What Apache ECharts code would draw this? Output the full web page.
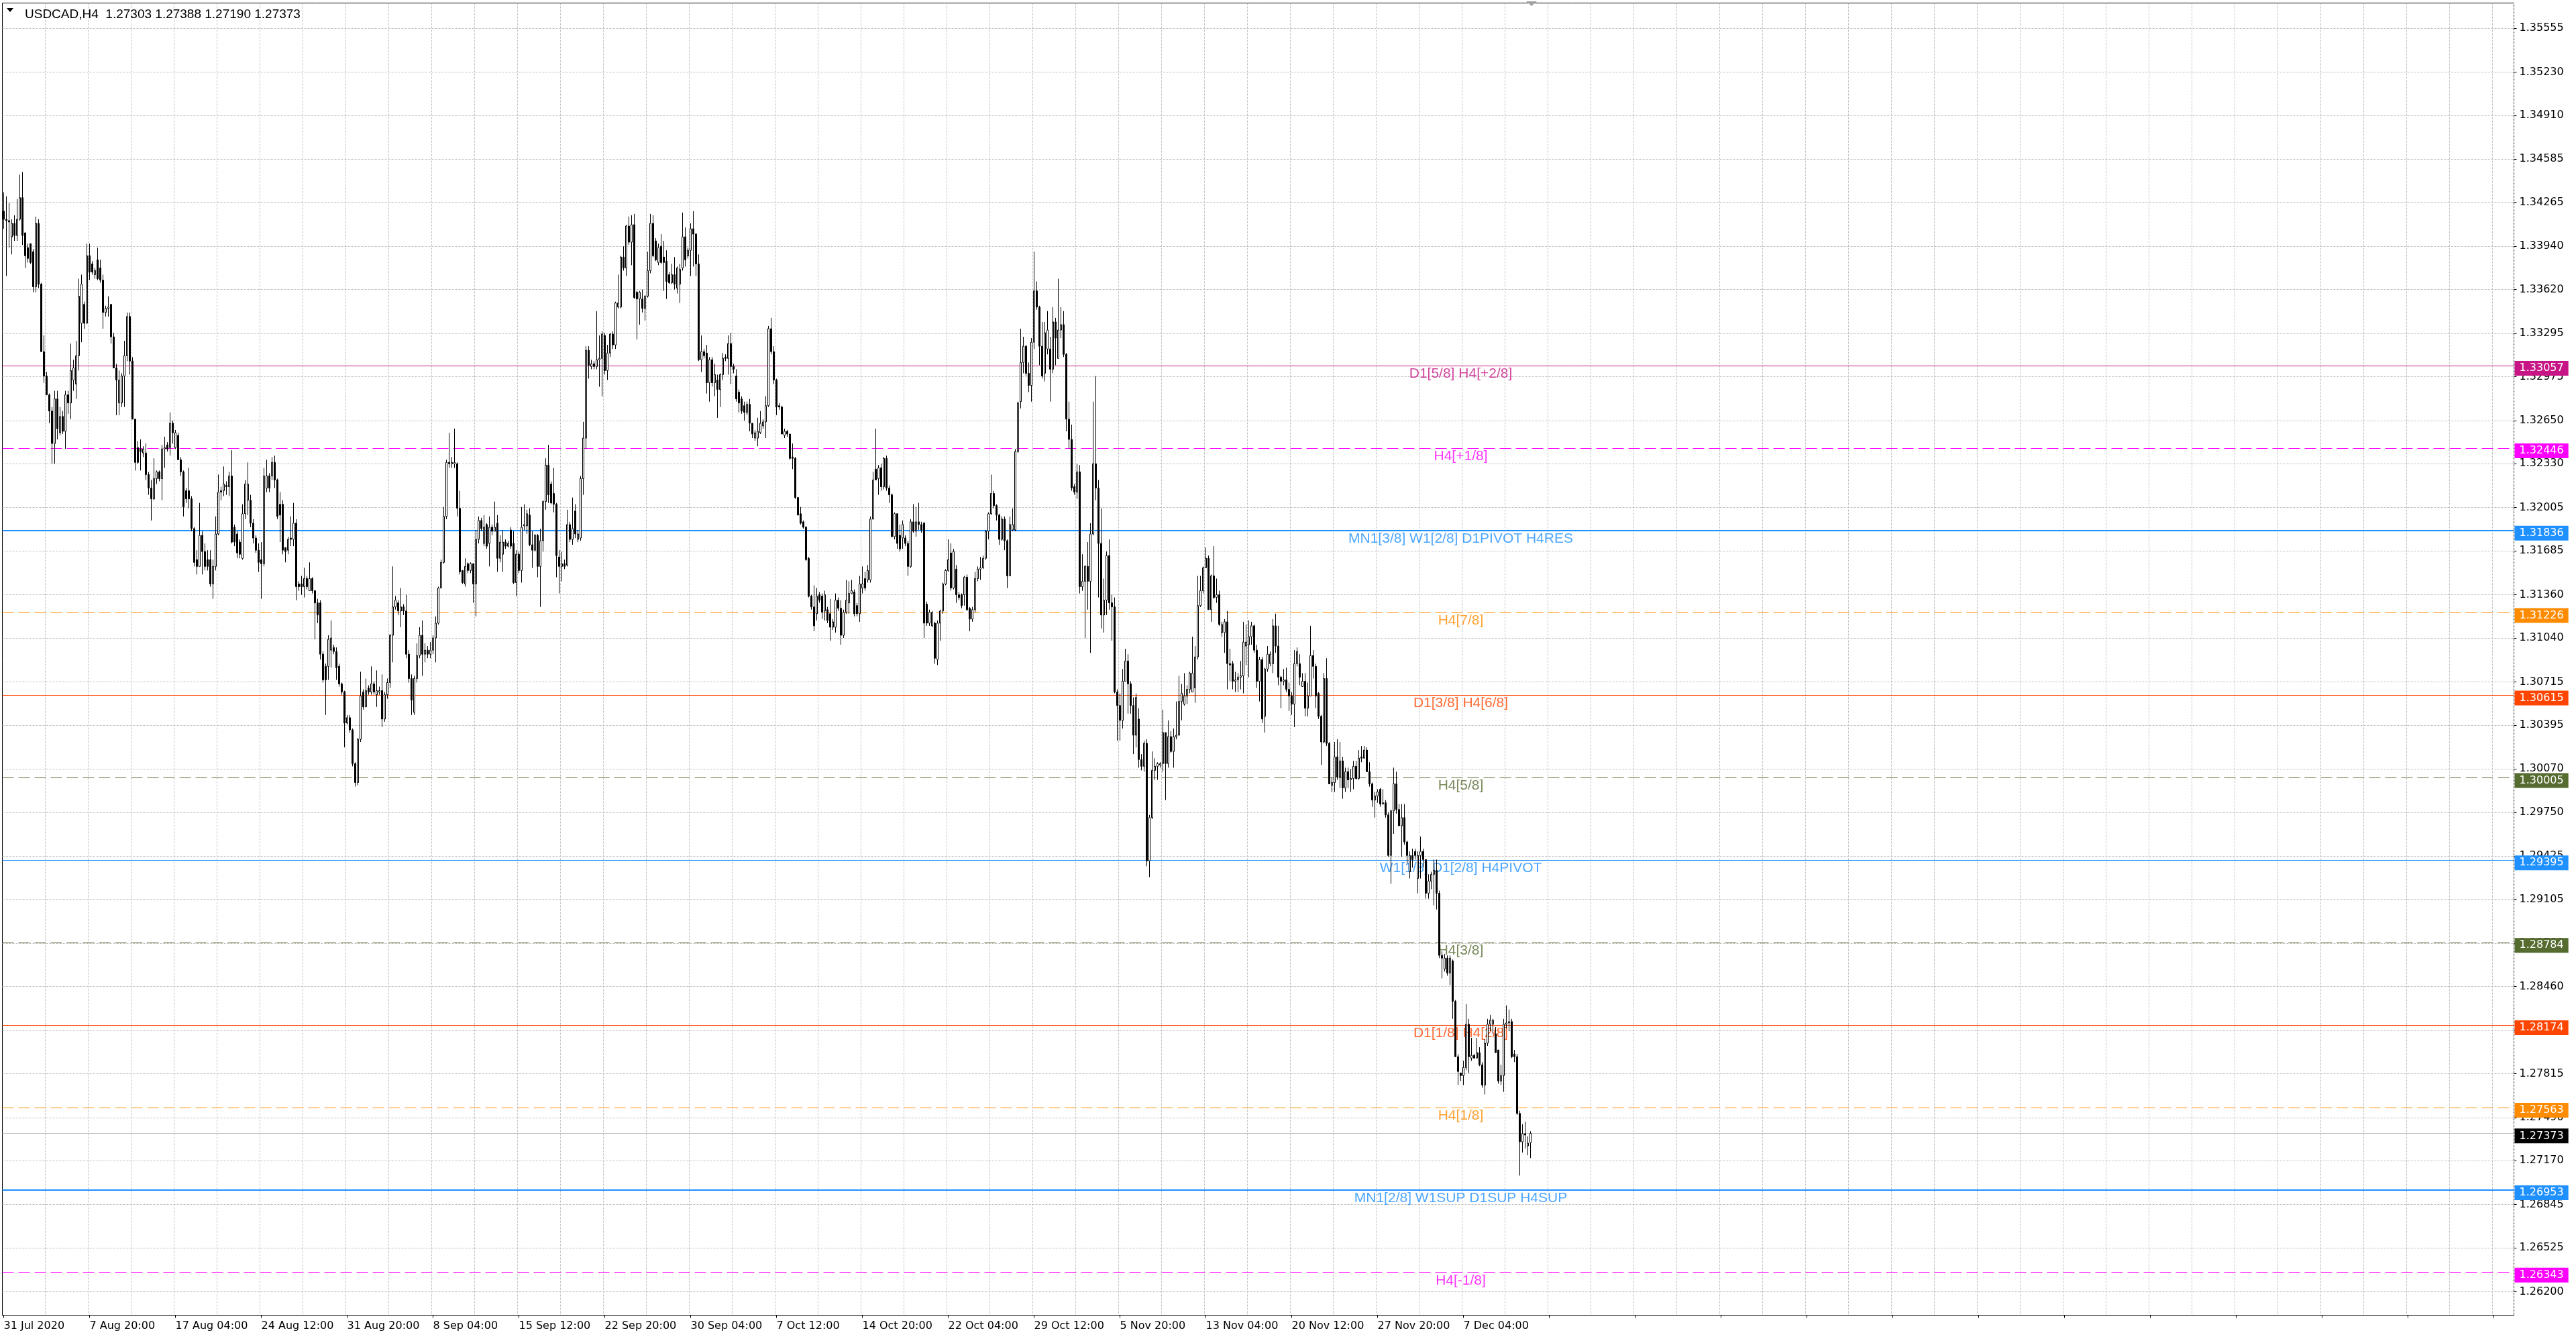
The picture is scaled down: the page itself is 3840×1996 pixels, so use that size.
<!DOCTYPE html>
<html><head><meta charset="utf-8">
<script src="https://cdn.jsdelivr.net/npm/echarts@6/dist/echarts.min.js"></script>
<style>html,body{margin:0;padding:0;background:#fff;}#c{width:3840px;height:1996px;}</style>
</head><body><div id="c"></div>
<script>
const symbolName = 'USDCAD,H4';
const timeLabels = ['31 Jul 2020','7 Aug 20:00','17 Aug 04:00','24 Aug 12:00','31 Aug 20:00','8 Sep 04:00','15 Sep 12:00','22 Sep 20:00','30 Sep 04:00','7 Oct 12:00','14 Oct 20:00','22 Oct 04:00','29 Oct 12:00','5 Nov 20:00','13 Nov 04:00','20 Nov 12:00','27 Nov 20:00','7 Dec 04:00'];
const priceTicks = [1.35555,1.35230,1.34910,1.34585,1.34265,1.33940,1.33620,1.33295,1.32975,1.32650,1.32330,1.32005,1.31685,1.31360,1.31040,1.30715,1.30395,1.30070,1.29750,1.29425,1.29105,1.28780,1.28460,1.28135,1.27815,1.27490,1.27170,1.26845,1.26525,1.26200];
const levelPrices = [1.33057,1.32446,1.31836,1.31226,1.30615,1.30005,1.29395,1.28784,1.28174,1.27563,1.26953,1.26343];
const levelNames = ['D1[5/8] H4[+2/8]','H4[+1/8]','MN1[3/8] W1[2/8] D1PIVOT H4RES','H4[7/8]','D1[3/8] H4[6/8]','H4[5/8]','W1[1/8] D1[2/8] H4PIVOT','H4[3/8]','D1[1/8] H4[2/8]','H4[1/8]','MN1[2/8] W1SUP D1SUP H4SUP','H4[-1/8]'];
// candles: [open, close, low, high]
const ohlc = [
[1.3420,1.3414,1.3407,1.3434],[1.3414,1.3413,1.3372,1.3431],[1.3413,1.3412,1.3393,1.3426],[1.3401,1.3411,1.3388,1.3414],[1.3411,1.3402,1.3398,1.3417],
[1.3402,1.3414,1.3398,1.3429],[1.3414,1.3430,1.3413,1.3447],[1.3430,1.3402,1.3395,1.3449],[1.3404,1.3387,1.3378,1.3404],[1.3393,1.3385,1.3382,1.3396],
[1.3396,1.3382,1.3381,1.3396],[1.3390,1.3364,1.3360,1.3392],[1.3364,1.3411,1.3360,1.3416],[1.3411,1.3366,1.3363,1.3414],[1.3366,1.3316,1.3316,1.3367],
[1.3316,1.3298,1.3293,1.3328],[1.3298,1.3284,1.3284,1.3301],[1.3284,1.3272,1.3263,1.3285],[1.3272,1.3248,1.3233,1.3275],[1.3248,1.3281,1.3233,1.3287],
[1.3281,1.3259,1.3251,1.3287],[1.3256,1.3268,1.3254,1.3275],[1.3268,1.3257,1.3255,1.3272],[1.3257,1.3284,1.3244,1.3287],[1.3284,1.3278,1.3270,1.3287],
[1.3278,1.3302,1.3266,1.3322],[1.3295,1.3304,1.3287,1.3310],[1.3292,1.3313,1.3281,1.3324],[1.3313,1.3357,1.3302,1.3370],[1.3337,1.3366,1.3323,1.3373],
[1.3351,1.3337,1.3333,1.3353],[1.3337,1.3387,1.3337,1.3396],[1.3387,1.3375,1.3369,1.3396],[1.3381,1.3375,1.3373,1.3383],[1.3373,1.3376,1.3370,1.3378],
[1.3384,1.3370,1.3369,1.3393],[1.3378,1.3369,1.3367,1.3384],[1.3369,1.3345,1.3333,1.3373],[1.3345,1.3348,1.3342,1.3350],[1.3348,1.3349,1.3342,1.3357],
[1.3351,1.3327,1.3322,1.3351],[1.3327,1.3304,1.3304,1.3330],[1.3304,1.3295,1.3269,1.3307],[1.3278,1.3295,1.3269,1.3302],[1.3278,1.3298,1.3275,1.3300],
[1.3298,1.3313,1.3275,1.3324],[1.3313,1.3342,1.3309,1.3345],[1.3342,1.3309,1.3299,1.3345],[1.3309,1.3266,1.3266,1.3312],[1.3266,1.3234,1.3228,1.3266],
[1.3245,1.3234,1.3233,1.3250],[1.3244,1.3242,1.3228,1.3251],[1.3241,1.3244,1.3238,1.3246],[1.3241,1.3225,1.3221,1.3248],[1.3225,1.3215,1.3210,1.3227],
[1.3215,1.3207,1.3191,1.3221],[1.3207,1.3222,1.3206,1.3237],[1.3222,1.3227,1.3218,1.3228],[1.3227,1.3222,1.3220,1.3228],[1.3222,1.3244,1.3206,1.3247],
[1.3244,1.3245,1.3230,1.3253],[1.3247,1.3244,1.3242,1.3249],[1.3245,1.3263,1.3239,1.3271],[1.3263,1.3256,1.3248,1.3265],[1.3245,1.3256,1.3244,1.3258],
[1.3254,1.3236,1.3236,1.3256],[1.3236,1.3227,1.3224,1.3238],[1.3227,1.3201,1.3194,1.3228],[1.3213,1.3207,1.3204,1.3215],[1.3213,1.3207,1.3200,1.3230],
[1.3207,1.3185,1.3183,1.3209],[1.3185,1.3160,1.3157,1.3186],[1.3162,1.3157,1.3151,1.3169],[1.3157,1.3180,1.3157,1.3204],[1.3180,1.3168,1.3151,1.3183],
[1.3168,1.3157,1.3154,1.3174],[1.3162,1.3157,1.3154,1.3169],[1.3162,1.3144,1.3142,1.3169],[1.3144,1.3157,1.3133,1.3162],[1.3157,1.3181,1.3154,1.3194],
[1.3181,1.3212,1.3180,1.3225],[1.3213,1.3212,1.3206,1.3216],[1.3213,1.3218,1.3209,1.3231],[1.3217,1.3216,1.3210,1.3220],[1.3216,1.3224,1.3209,1.3227],
[1.3224,1.3175,1.3174,1.3243],[1.3186,1.3175,1.3172,1.3188],[1.3181,1.3167,1.3163,1.3183],[1.3175,1.3166,1.3163,1.3177],[1.3163,1.3196,1.3162,1.3203],
[1.3196,1.3218,1.3192,1.3221],[1.3206,1.3218,1.3195,1.3234],[1.3206,1.3189,1.3186,1.3210],[1.3189,1.3178,1.3174,1.3192],[1.3178,1.3169,1.3167,1.3180],
[1.3169,1.3160,1.3153,1.3174],[1.3162,1.3159,1.3133,1.3175],[1.3159,1.3224,1.3157,1.3230],[1.3215,1.3224,1.3212,1.3236],[1.3224,1.3215,1.3212,1.3226],
[1.3224,1.3234,1.3221,1.3238],[1.3234,1.3221,1.3215,1.3239],[1.3221,1.3194,1.3192,1.3222],[1.3203,1.3195,1.3175,1.3212],[1.3203,1.3169,1.3166,1.3206],
[1.3171,1.3168,1.3160,1.3171],[1.3169,1.3177,1.3166,1.3179],[1.3178,1.3177,1.3172,1.3194],[1.3177,1.3189,1.3172,1.3204],[1.3189,1.3142,1.3132,1.3192],
[1.3144,1.3142,1.3139,1.3146],[1.3144,1.3142,1.3136,1.3150],[1.3142,1.3148,1.3134,1.3156],[1.3148,1.3142,1.3140,1.3150],[1.3139,1.3148,1.3139,1.3160],
[1.3148,1.3139,1.3137,1.3149],[1.3139,1.3130,1.3103,1.3139],[1.3130,1.3121,1.3115,1.3133],[1.3130,1.3092,1.3088,1.3132],[1.3092,1.3073,1.3071,1.3094],
[1.3083,1.3073,1.3047,1.3085],[1.3083,1.3103,1.3073,1.3106],[1.3095,1.3104,1.3082,1.3117],[1.3097,1.3094,1.3092,1.3099],[1.3094,1.3082,1.3073,1.3097],
[1.3083,1.3070,1.3068,1.3085],[1.3070,1.3064,1.3062,1.3071],[1.3064,1.3041,1.3023,1.3065],[1.3041,1.3045,1.3040,1.3047],[1.3045,1.3036,1.3034,1.3047],
[1.3036,1.3011,1.3009,1.3037],[1.3011,1.2997,1.2994,1.3012],[1.2997,1.3029,1.2995,1.3030],[1.3029,1.3061,1.3027,1.3079],[1.3064,1.3053,1.3051,1.3066],
[1.3053,1.3065,1.3053,1.3074],[1.3067,1.3064,1.3062,1.3069],[1.3064,1.3070,1.3062,1.3083],[1.3070,1.3064,1.3062,1.3072],[1.3062,1.3065,1.3053,1.3080],
[1.3064,1.3065,1.3062,1.3068],[1.3065,1.3044,1.3038,1.3077],[1.3044,1.3062,1.3042,1.3064],[1.3062,1.3071,1.3059,1.3074],[1.3071,1.3106,1.3067,1.3107],
[1.3106,1.3127,1.3086,1.3157],[1.3127,1.3132,1.3125,1.3135],[1.3130,1.3124,1.3121,1.3132],[1.3124,1.3127,1.3112,1.3141],[1.3127,1.3124,1.3121,1.3129],
[1.3124,1.3092,1.3089,1.3136],[1.3092,1.3074,1.3071,1.3095],[1.3074,1.3058,1.3047,1.3077],[1.3049,1.3074,1.3047,1.3076],[1.3074,1.3091,1.3071,1.3100],
[1.3091,1.3106,1.3089,1.3112],[1.3106,1.3092,1.3076,1.3117],[1.3092,1.3095,1.3086,1.3100],[1.3095,1.3092,1.3089,1.3098],[1.3092,1.3095,1.3089,1.3101],
[1.3095,1.3104,1.3092,1.3106],[1.3104,1.3115,1.3086,1.3120],[1.3115,1.3141,1.3114,1.3142],[1.3141,1.3160,1.3141,1.3162],[1.3160,1.3194,1.3159,1.3201],
[1.3194,1.3234,1.3192,1.3236],[1.3234,1.3233,1.3230,1.3256],[1.3233,1.3234,1.3230,1.3238],[1.3233,1.3234,1.3230,1.3259],[1.3233,1.3200,1.3194,1.3234],
[1.3200,1.3153,1.3151,1.3213],[1.3154,1.3145,1.3144,1.3154],[1.3144,1.3157,1.3142,1.3163],[1.3159,1.3154,1.3152,1.3160],[1.3154,1.3159,1.3152,1.3160],
[1.3159,1.3144,1.3130,1.3159],[1.3144,1.3177,1.3120,1.3184],[1.3177,1.3191,1.3174,1.3194],[1.3191,1.3185,1.3183,1.3193],[1.3174,1.3186,1.3172,1.3195],
[1.3188,1.3172,1.3170,1.3189],[1.3174,1.3186,1.3157,1.3194],[1.3186,1.3183,1.3180,1.3188],[1.3183,1.3186,1.3183,1.3205],[1.3189,1.3163,1.3153,1.3195],
[1.3163,1.3175,1.3160,1.3180],[1.3166,1.3175,1.3153,1.3184],[1.3175,1.3172,1.3170,1.3177],[1.3172,1.3174,1.3171,1.3176],[1.3184,1.3172,1.3170,1.3186],
[1.3174,1.3145,1.3144,1.3183],[1.3145,1.3166,1.3135,1.3169],[1.3166,1.3154,1.3152,1.3168],[1.3154,1.3186,1.3145,1.3201],[1.3187,1.3188,1.3184,1.3203],
[1.3187,1.3196,1.3181,1.3199],[1.3195,1.3173,1.3172,1.3200],[1.3173,1.3169,1.3156,1.3183],[1.3169,1.3180,1.3168,1.3181],[1.3180,1.3157,1.3149,1.3181],
[1.3157,1.3176,1.3127,1.3185],[1.3176,1.3205,1.3168,1.3206],[1.3205,1.3232,1.3199,1.3237],[1.3232,1.3210,1.3204,1.3247],[1.3218,1.3204,1.3203,1.3220],
[1.3211,1.3203,1.3197,1.3230],[1.3203,1.3165,1.3149,1.3204],[1.3164,1.3157,1.3137,1.3169],[1.3157,1.3159,1.3146,1.3168],[1.3159,1.3157,1.3155,1.3162],
[1.3158,1.3188,1.3157,1.3199],[1.3188,1.3177,1.3175,1.3190],[1.3177,1.3185,1.3173,1.3208],[1.3198,1.3181,1.3178,1.3203],[1.3177,1.3181,1.3175,1.3184],
[1.3178,1.3222,1.3176,1.3224],[1.3222,1.3252,1.3210,1.3264],[1.3252,1.3317,1.3244,1.3320],[1.3317,1.3306,1.3296,1.3320],[1.3305,1.3307,1.3303,1.3310],
[1.3307,1.3305,1.3303,1.3309],[1.3305,1.3310,1.3303,1.3346],[1.3310,1.3311,1.3290,1.3328],[1.3311,1.3329,1.3283,1.3331],[1.3328,1.3302,1.3299,1.3330],
[1.3302,1.3315,1.3295,1.3321],[1.3315,1.3329,1.3312,1.3330],[1.3329,1.3321,1.3318,1.3331],[1.3321,1.3352,1.3318,1.3353],[1.3349,1.3352,1.3348,1.3373],
[1.3349,1.3386,1.3348,1.3387],[1.3386,1.3378,1.3376,1.3394],[1.3378,1.3409,1.3372,1.3410],[1.3409,1.3397,1.3395,1.3416],[1.3397,1.3410,1.3380,1.3417],
[1.3410,1.3356,1.3355,1.3418],[1.3360,1.3355,1.3325,1.3361],[1.3355,1.3360,1.3336,1.3361],[1.3355,1.3348,1.3345,1.3362],[1.3348,1.3357,1.3339,1.3358],
[1.3357,1.3376,1.3356,1.3390],[1.3376,1.3411,1.3374,1.3418],[1.3411,1.3387,1.3386,1.3417],[1.3398,1.3384,1.3383,1.3400],[1.3382,1.3393,1.3380,1.3396],
[1.3394,1.3382,1.3381,1.3403],[1.3386,1.3382,1.3361,1.3398],[1.3383,1.3368,1.3355,1.3391],[1.3373,1.3367,1.3366,1.3375],[1.3367,1.3373,1.3366,1.3381],
[1.3373,1.3366,1.3362,1.3386],[1.3363,1.3378,1.3359,1.3379],[1.3366,1.3377,1.3352,1.3381],[1.3378,1.3401,1.3376,1.3419],[1.3401,1.3384,1.3379,1.3408],
[1.3387,1.3391,1.3385,1.3393],[1.3391,1.3407,1.3372,1.3411],[1.3407,1.3403,1.3379,1.3420],[1.3403,1.3381,1.3372,1.3404],[1.3381,1.3310,1.3309,1.3388],
[1.3310,1.3316,1.3301,1.3328],[1.3316,1.3313,1.3311,1.3318],[1.3315,1.3293,1.3285,1.3321],[1.3293,1.3310,1.3279,1.3312],[1.3310,1.3293,1.3290,1.3312],
[1.3293,1.3299,1.3283,1.3307],[1.3295,1.3288,1.3267,1.3299],[1.3288,1.3299,1.3275,1.3300],[1.3299,1.3311,1.3295,1.3315],[1.3312,1.3311,1.3309,1.3314],
[1.3311,1.3322,1.3299,1.3328],[1.3322,1.3305,1.3292,1.3330],[1.3305,1.3303,1.3300,1.3307],[1.3298,1.3281,1.3279,1.3303],[1.3286,1.3278,1.3271,1.3288],
[1.3281,1.3272,1.3270,1.3283],[1.3276,1.3271,1.3265,1.3279],[1.3271,1.3277,1.3269,1.3279],[1.3277,1.3263,1.3257,1.3281],[1.3263,1.3255,1.3252,1.3263],
[1.3252,1.3256,1.3250,1.3258],[1.3252,1.3257,1.3246,1.3267],[1.3256,1.3263,1.3255,1.3272],[1.3261,1.3264,1.3259,1.3266],[1.3264,1.3276,1.3252,1.3283],
[1.3276,1.3333,1.3275,1.3335],[1.3333,1.3316,1.3314,1.3341],[1.3316,1.3295,1.3292,1.3320],[1.3295,1.3275,1.3269,1.3296],[1.3276,1.3275,1.3273,1.3278],
[1.3275,1.3255,1.3255,1.3276],[1.3254,1.3257,1.3252,1.3259],[1.3257,1.3255,1.3253,1.3258],[1.3255,1.3237,1.3236,1.3255],[1.3238,1.3237,1.3229,1.3248],
[1.3237,1.3208,1.3207,1.3238],[1.3208,1.3195,1.3195,1.3208],[1.3196,1.3189,1.3188,1.3201],[1.3190,1.3186,1.3185,1.3191],[1.3186,1.3162,1.3161,1.3187],
[1.3163,1.3135,1.3134,1.3164],[1.3135,1.3127,1.3125,1.3136],[1.3127,1.3113,1.3109,1.3143],[1.3122,1.3135,1.3117,1.3141],[1.3136,1.3132,1.3130,1.3138],
[1.3135,1.3123,1.3118,1.3137],[1.3124,1.3136,1.3117,1.3139],[1.3125,1.3117,1.3115,1.3127],[1.3122,1.3112,1.3102,1.3133],[1.3112,1.3116,1.3110,1.3118],
[1.3112,1.3132,1.3108,1.3137],[1.3132,1.3126,1.3124,1.3134],[1.3126,1.3106,1.3099,1.3132],[1.3106,1.3123,1.3104,1.3125],[1.3123,1.3132,1.3122,1.3147],
[1.3130,1.3137,1.3122,1.3146],[1.3137,1.3139,1.3137,1.3147],[1.3138,1.3122,1.3120,1.3140],[1.3128,1.3122,1.3120,1.3130],[1.3122,1.3144,1.3116,1.3150],
[1.3141,1.3144,1.3137,1.3157],[1.3148,1.3141,1.3139,1.3153],[1.3147,1.3154,1.3145,1.3158],[1.3147,1.3192,1.3145,1.3194],[1.3192,1.3221,1.3192,1.3227],
[1.3229,1.3221,1.3221,1.3259],[1.3222,1.3230,1.3210,1.3232],[1.3230,1.3216,1.3213,1.3233],[1.3216,1.3237,1.3214,1.3238],[1.3237,1.3215,1.3213,1.3239],
[1.3215,1.3210,1.3204,1.3217],[1.3210,1.3179,1.3179,1.3211],[1.3179,1.3196,1.3177,1.3197],[1.3196,1.3174,1.3170,1.3196],[1.3180,1.3170,1.3168,1.3188],
[1.3178,1.3188,1.3170,1.3191],[1.3178,1.3174,1.3172,1.3180],[1.3174,1.3157,1.3150,1.3176],[1.3157,1.3190,1.3156,1.3192],[1.3190,1.3183,1.3182,1.3203],
[1.3183,1.3190,1.3179,1.3201],[1.3190,1.3188,1.3184,1.3204],[1.3188,1.3184,1.3182,1.3190],[1.3189,1.3115,1.3104,1.3190],[1.3129,1.3115,1.3113,1.3131],
[1.3115,1.3123,1.3113,1.3125],[1.3113,1.3123,1.3112,1.3124],[1.3115,1.3089,1.3085,1.3116],[1.3088,1.3115,1.3084,1.3117],[1.3115,1.3124,1.3102,1.3125],
[1.3124,1.3144,1.3122,1.3145],[1.3144,1.3154,1.3143,1.3155],[1.3154,1.3162,1.3153,1.3177],[1.3167,1.3141,1.3139,1.3174],[1.3141,1.3168,1.3140,1.3170],
[1.3155,1.3136,1.3130,1.3158],[1.3136,1.3134,1.3132,1.3138],[1.3136,1.3128,1.3126,1.3137],[1.3136,1.3149,1.3128,1.3150],[1.3149,1.3125,1.3124,1.3151],
[1.3126,1.3118,1.3109,1.3127],[1.3118,1.3125,1.3116,1.3127],[1.3125,1.3148,1.3123,1.3153],[1.3148,1.3155,1.3146,1.3157],[1.3155,1.3156,1.3147,1.3164],
[1.3156,1.3163,1.3155,1.3165],[1.3163,1.3183,1.3162,1.3184],[1.3183,1.3196,1.3177,1.3197],[1.3196,1.3211,1.3195,1.3225],[1.3211,1.3202,1.3200,1.3213],
[1.3202,1.3195,1.3191,1.3203],[1.3195,1.3177,1.3173,1.3196],[1.3177,1.3192,1.3176,1.3194],[1.3192,1.3176,1.3169,1.3194],[1.3176,1.3150,1.3141,1.3177],
[1.3150,1.3188,1.3150,1.3194],[1.3184,1.3188,1.3183,1.3200],[1.3184,1.3242,1.3183,1.3244],[1.3242,1.3278,1.3241,1.3279],[1.3279,1.3308,1.3274,1.3333],
[1.3308,1.3320,1.3300,1.3327],[1.3320,1.3300,1.3298,1.3321],[1.3300,1.3291,1.3286,1.3308],[1.3291,1.3323,1.3279,1.3326],[1.3323,1.3361,1.3318,1.3390],
[1.3361,1.3349,1.3347,1.3368],[1.3349,1.3320,1.3306,1.3350],[1.3320,1.3298,1.3296,1.3338],[1.3300,1.3330,1.3294,1.3338],[1.3318,1.3332,1.3314,1.3346],
[1.3318,1.3303,1.3279,1.3327],[1.3303,1.3338,1.3300,1.3349],[1.3338,1.3326,1.3306,1.3341],[1.3311,1.3332,1.3311,1.3370],[1.3332,1.3336,1.3326,1.3349],
[1.3336,1.3314,1.3312,1.3346],[1.3314,1.3266,1.3257,1.3315],[1.3266,1.3251,1.3244,1.3279],[1.3251,1.3215,1.3213,1.3262],[1.3216,1.3212,1.3210,1.3218],
[1.3212,1.3227,1.3207,1.3233],[1.3227,1.3142,1.3137,1.3232],[1.3142,1.3146,1.3139,1.3166],[1.3146,1.3157,1.3104,1.3158],[1.3157,1.3146,1.3125,1.3175],
[1.3146,1.3181,1.3093,1.3189],[1.3181,1.3233,1.3180,1.3279],[1.3233,1.3215,1.3206,1.3298],[1.3215,1.3174,1.3134,1.3221],[1.3174,1.3121,1.3111,1.3200],
[1.3121,1.3132,1.3108,1.3148],[1.3132,1.3165,1.3121,1.3168],[1.3165,1.3130,1.3125,1.3177],[1.3130,1.3127,1.3102,1.3136],[1.3127,1.3064,1.3063,1.3134],
[1.3064,1.3054,1.3028,1.3066],[1.3054,1.3043,1.3028,1.3063],[1.3043,1.3072,1.3037,1.3081],[1.3072,1.3087,1.3072,1.3096],[1.3087,1.3070,1.3048,1.3092],
[1.3070,1.3054,1.3048,1.3072],[1.3054,1.3032,1.3018,1.3060],[1.3032,1.3060,1.3023,1.3063],[1.3044,1.3014,1.3008,1.3052],[1.3014,1.3009,1.3006,1.3018],
[1.3009,1.3026,1.3005,1.3028],[1.3026,1.2939,1.2935,1.3029],[1.2939,1.2971,1.2927,1.2973],[1.2971,1.3006,1.2970,1.3020],[1.3006,1.3009,1.2999,1.3015],
[1.3009,1.3011,1.2999,1.3012],[1.3010,1.3011,1.3008,1.3012],[1.3011,1.3034,1.3005,1.3051],[1.3034,1.3011,1.2984,1.3034],[1.3011,1.3031,1.3008,1.3043],
[1.3031,1.3020,1.3019,1.3035],[1.3020,1.3031,1.3008,1.3037],[1.3031,1.3032,1.3029,1.3057],[1.3032,1.3057,1.3032,1.3076],[1.3057,1.3063,1.3043,1.3070],
[1.3055,1.3061,1.3054,1.3078],[1.3061,1.3066,1.3055,1.3069],[1.3066,1.3078,1.3063,1.3079],[1.3064,1.3078,1.3064,1.3105],[1.3067,1.3090,1.3056,1.3098],
[1.3090,1.3128,1.3088,1.3150],[1.3128,1.3139,1.3127,1.3150],[1.3139,1.3156,1.3137,1.3157],[1.3156,1.3163,1.3156,1.3171],[1.3163,1.3125,1.3125,1.3165],
[1.3125,1.3150,1.3116,1.3151],[1.3150,1.3134,1.3133,1.3172],[1.3134,1.3136,1.3130,1.3148],[1.3136,1.3114,1.3113,1.3139],[1.3108,1.3114,1.3105,1.3116],
[1.3108,1.3116,1.3093,1.3118],[1.3116,1.3085,1.3066,1.3124],[1.3085,1.3084,1.3072,1.3096],[1.3085,1.3072,1.3066,1.3087],[1.3072,1.3073,1.3064,1.3079],
[1.3073,1.3075,1.3064,1.3078],[1.3075,1.3076,1.3066,1.3087],[1.3076,1.3101,1.3063,1.3116],[1.3098,1.3101,1.3084,1.3114],[1.3099,1.3105,1.3075,1.3117],
[1.3105,1.3113,1.3099,1.3116],[1.3113,1.3095,1.3093,1.3114],[1.3095,1.3072,1.3067,1.3099],[1.3072,1.3088,1.3057,1.3090],[1.3088,1.3044,1.3041,1.3090],
[1.3046,1.3081,1.3034,1.3082],[1.3081,1.3092,1.3079,1.3098],[1.3085,1.3092,1.3083,1.3094],[1.3085,1.3113,1.3078,1.3118],[1.3113,1.3098,1.3093,1.3122],
[1.3098,1.3075,1.3069,1.3113],[1.3075,1.3072,1.3052,1.3076],[1.3072,1.3073,1.3069,1.3081],[1.3073,1.3066,1.3064,1.3082],[1.3066,1.3061,1.3050,1.3071],
[1.3061,1.3055,1.3047,1.3064],[1.3055,1.3085,1.3038,1.3095],[1.3085,1.3094,1.3083,1.3097],[1.3085,1.3075,1.3069,1.3092],[1.3068,1.3072,1.3068,1.3078],
[1.3072,1.3052,1.3046,1.3078],[1.3052,1.3061,1.3046,1.3071],[1.3061,1.3091,1.3061,1.3113],[1.3091,1.3083,1.3074,1.3095],[1.3083,1.3061,1.3052,1.3085],
[1.3063,1.3046,1.3044,1.3064],[1.3046,1.3027,1.3010,1.3047],[1.3027,1.3074,1.3026,1.3078],[1.3074,1.3026,1.3024,1.3089],[1.3026,1.2996,1.2996,1.3027],
[1.2995,1.2997,1.2990,1.3001],[1.2997,1.3016,1.2990,1.3027],[1.3016,1.3001,1.2999,1.3029],[1.3001,1.3013,1.2993,1.3027],[1.3013,1.2993,1.2985,1.3016],
[1.2993,1.3005,1.2990,1.3008],[1.3005,1.2999,1.2993,1.3008],[1.2999,1.3000,1.2990,1.3007],[1.3000,1.3009,1.2992,1.3013],[1.3009,1.3000,1.2999,1.3013],
[1.3000,1.3015,1.2999,1.3021],[1.3016,1.3015,1.3012,1.3024],[1.3015,1.3021,1.3015,1.3024],[1.3021,1.3005,1.3005,1.3023],[1.3005,1.2996,1.2994,1.3012],
[1.2996,1.2984,1.2979,1.2997],[1.2984,1.2987,1.2971,1.2990],[1.2987,1.2990,1.2982,1.2992],[1.2992,1.2981,1.2979,1.2993],[1.2981,1.2982,1.2981,1.2992],
[1.2982,1.2973,1.2971,1.2984],[1.2973,1.2943,1.2942,1.2975],[1.2943,1.2976,1.2922,1.2977],[1.2976,1.2996,1.2959,1.3008],[1.2996,1.2977,1.2974,1.3005],
[1.2977,1.2965,1.2965,1.2981],[1.2965,1.2971,1.2942,1.2981],[1.2971,1.2953,1.2951,1.2981],[1.2953,1.2943,1.2937,1.2954],[1.2931,1.2943,1.2926,1.2946],
[1.2943,1.2940,1.2934,1.2948],[1.2946,1.2943,1.2940,1.2948],[1.2926,1.2943,1.2915,1.2946],[1.2943,1.2946,1.2926,1.2957],[1.2946,1.2940,1.2934,1.2948],
[1.2940,1.2915,1.2911,1.2940],[1.2915,1.2924,1.2911,1.2929],[1.2924,1.2929,1.2918,1.2931],[1.2929,1.2932,1.2906,1.2940],[1.2932,1.2915,1.2903,1.2940],
[1.2915,1.2869,1.2867,1.2917],[1.2869,1.2867,1.2852,1.2872],[1.2859,1.2867,1.2857,1.2870],[1.2867,1.2856,1.2854,1.2869],[1.2856,1.2867,1.2847,1.2869],
[1.2865,1.2835,1.2822,1.2866],[1.2835,1.2794,1.2794,1.2836],[1.2794,1.2783,1.2773,1.2796],[1.2782,1.2780,1.2776,1.2782],[1.2780,1.2786,1.2773,1.2791],
[1.2786,1.2818,1.2784,1.2833],[1.2818,1.2794,1.2782,1.2822],[1.2793,1.2795,1.2791,1.2808],[1.2795,1.2793,1.2793,1.2796],[1.2793,1.2797,1.2793,1.2808],
[1.2797,1.2788,1.2787,1.2801],[1.2788,1.2773,1.2771,1.2790],[1.2773,1.2804,1.2766,1.2807],[1.2804,1.2818,1.2802,1.2822],[1.2818,1.2821,1.2813,1.2825],
[1.2818,1.2821,1.2811,1.2822],[1.2811,1.2797,1.2797,1.2816],[1.2799,1.2776,1.2774,1.2799],[1.2776,1.2780,1.2773,1.2788],[1.2780,1.2818,1.2768,1.2822],
[1.2818,1.2819,1.2815,1.2832],[1.2819,1.2820,1.2813,1.2829],[1.2820,1.2794,1.2793,1.2822],[1.2796,1.2794,1.2790,1.2799],[1.2794,1.2752,1.2751,1.2796],
[1.2752,1.2731,1.2706,1.2754],[1.2731,1.2737,1.2723,1.2744],[1.2737,1.2736,1.2726,1.2746],[1.2728,1.2730,1.2721,1.2735],[1.27303,1.27373,1.27190,1.27388]
];

// ---- styles (kept apart from the data) ----
const levelColors = ['#C71585','#FF00FF','#1E90FF','#FF8C00','#FF4500','#556B2F','#1E90FF','#556B2F','#FF4500','#FF8C00','#1E90FF','#FF00FF'];
const levelDashed = [false,true,false,true,false,true,false,true,false,true,false,true];
const levelWidths = [1,1,2,1,1,1,1,1,1,1,2,1];
const TOTAL_SLOTS = 936;       // chart area incl. right shift
const LABEL_EVERY = 32;
const GRID_EVERY = 16;
const LEVEL_TEXT_SLOT = 543;
const axisFont = 'DejaVu Sans';
const textFont = 'Liberation Sans';

const slots = Array.from({length: TOTAL_SLOTS}, (_, i) => String(i));
const last = ohlc[ohlc.length - 1];
const lastClose = last[1];
const header = symbolName + '  ' + [last[0], last[3], last[2], last[1]].map(v => v.toFixed(5)).join(' ');

const tagLabel = (val, bg) => ({
  show: true, position: 'end', distance: 1, offset: [0, 4],
  formatter: val.toFixed(5), color: '#FFFFFF', backgroundColor: bg,
  fontFamily: axisFont, fontSize: 16, lineHeight: 17, padding: [3, 7, 2, 7]
});

const levelLines = levelPrices.map((p, i) => ({
  yAxis: p,
  lineStyle: { color: levelColors[i], width: levelWidths[i], type: levelDashed[i] ? [17, 7] : 'solid' },
  label: tagLabel(p, levelColors[i])
}));
levelLines.push({
  yAxis: lastClose,
  lineStyle: { color: '#C0C0C0', width: 1, type: 'solid' },
  label: tagLabel(lastClose, '#000000')
});

const chart = echarts.init(document.getElementById('c'), null, { renderer: 'canvas' });
chart.setOption({
  animation: false,
  backgroundColor: '#FFFFFF',
  title: {
    text: header, left: 32, top: 7,
    textStyle: { fontFamily: textFont, fontSize: 19, fontWeight: 'normal', color: '#000' }
  },
  graphic: [
    { type: 'polygon', shape: { points: [[10, 12], [20, 12], [15, 18]] }, style: { fill: '#000' }, z: 100 },
    { type: 'polygon', shape: { points: [[2275, 2], [2291, 2], [2283, 9]] }, style: { fill: '#A0A0A0' }, z: 100 }
  ],
  grid: { left: 3.5, top: 4.5, width: TOTAL_SLOTS * 4, height: 1956, show: true, borderColor: '#000', borderWidth: 1, backgroundColor: '#FFFFFF' },
  xAxis: {
    type: 'category', data: slots, boundaryGap: true,
    axisLine: { show: true, lineStyle: { color: '#000', width: 1 } },
    axisTick: { show: true, alignWithLabel: true, length: 4, interval: (i) => i % LABEL_EVERY === 0, lineStyle: { color: '#000' } },
    axisLabel: {
      interval: (i) => i % LABEL_EVERY === 0 && (i / LABEL_EVERY) < timeLabels.length,
      formatter: (v, i) => timeLabels[i / LABEL_EVERY] || '',
      align: 'left', margin: 8, color: '#000', fontFamily: axisFont, fontSize: 16
    },
    splitLine: { show: true, interval: (i) => i % GRID_EVERY === 0 && i > 0, lineStyle: { color: '#C0C0C0', width: 1, type: [3, 2] } }
  },
  yAxis: {
    type: 'value', position: 'right', min: 1.260263, max: 1.357412, scale: true,
    axisLine: { show: false },
    axisTick: { show: true, length: 4, customValues: priceTicks, lineStyle: { color: '#000' } },
    axisLabel: { customValues: priceTicks, formatter: (v) => v.toFixed(5), margin: 8, color: '#000', fontFamily: axisFont, fontSize: 16 },
    splitLine: { show: true, lineStyle: { color: '#C0C0C0', width: 1, type: [3, 2] } }
  },
  series: [
    {
      name: 'levels', type: 'line', data: [], z: 1, silent: true,
      markLine: { silent: true, symbol: ['none', 'none'], z: 1, animation: false, precision: 5, data: levelLines }
    },
    {
      name: 'levelText', type: 'scatter', z: 1, silent: true, symbolSize: 1,
      itemStyle: { color: 'rgba(0,0,0,0)' },
      data: levelPrices.map((p, i) => ({ value: [LEVEL_TEXT_SLOT, p], name: levelNames[i], label: { color: levelColors[i] } })),
      label: { show: true, position: 'inside', offset: [0, 12], formatter: '{b}', fontFamily: textFont, fontSize: 21, align: 'center', verticalAlign: 'middle' }
    },
    {
      name: 'USDCAD', type: 'candlestick', z: 3, data: ohlc, barWidth: 3,
      itemStyle: { color: '#FFFFFF', color0: '#000000', borderColor: '#000000', borderColor0: '#000000', borderColorDoji: '#000000', borderWidth: 1 }
    }
  ]
});
</script>
</body></html>
